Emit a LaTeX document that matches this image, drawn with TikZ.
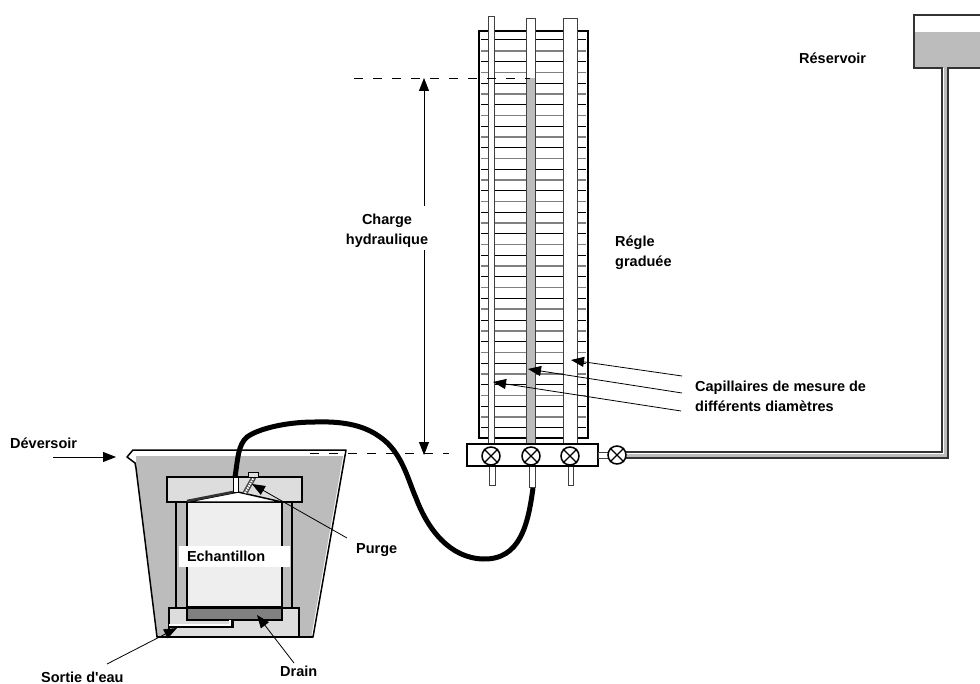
\documentclass[tikz,border=0pt]{standalone}
\usepackage{fontspec}
\newfontfamily\labelfont{Liberation Sans}
\usetikzlibrary{arrows.meta,positioning,calc}
\definecolor{watergrey}{RGB}{188,188,188}
\definecolor{capgrey}{RGB}{221,221,221}
\definecolor{samplegrey}{RGB}{238,238,238}
\definecolor{draingrey}{RGB}{128,128,128}

\begin{document}
\begin{tikzpicture}[
  x=1pt, y=-1pt,
  font=\fontsize{14.5}{20}\selectfont\labelfont\bfseries,
  arrow/.style={-{Stealth[length=13pt,width=10pt,inset=0pt]}, line width=0.8pt, draw=black},
  label/.style={inner sep=0pt, align=left},
  wall/.style={draw=black, line width=1.5pt},
  hose/.style={draw=black, line width=5pt, line join=round},
  tube/.style={draw=black!75, fill=white, line width=1pt},
  dashline/.style={draw=black, line width=0.8pt, dash pattern=on 9pt off 10pt},
  valve/.style={circle, draw=black, fill=white, line width=1.5pt, minimum size=18pt, inner sep=0pt}
]
\useasboundingbox (0,0) rectangle (980,684);

% --- Reservoir ---
\fill[watergrey] (914,32) rectangle (980,68);
\draw[line width=1.2pt, draw=black!80] (980,15) -- (914,15) -- (914,68) -- (942,68) -- (942,452)
  -- (626,452);
\draw[line width=3pt, draw=watergrey] (945,68) -- (945,455) -- (626,455);
\draw[line width=1.8pt, draw=black!80] (980,68) -- (948,68) -- (948,458) -- (626,458);

% --- Ruler ---
\draw[draw=black, line width=1.5pt, fill=white] (479,438) -- (479,31) -- (588,31) -- (588,438) -- cycle;
\foreach \row in {0,...,36} {
  \pgfmathsetmacro{\ypos}{40+10.77*\row}
  \ifodd\row
    \draw[draw=draingrey, line width=1.5pt] (481,\ypos) -- (586,\ypos);
  \else
    \draw[draw=black, line width=1pt] (481,\ypos) -- (586,\ypos);
  \fi
}

% --- Capillaries ---
\draw[tube] (488,444) rectangle (494,17);
\draw[tube] (526,444) rectangle (535,19);
\fill[watergrey] (526.5,78) rectangle (534.5,444);
\draw[tube] (563,444) rectangle (577,19);

% --- Legs and base ---
\draw[tube] (489,466) rectangle (495,485);
\draw[tube] (529,466) rectangle (535,487);
\draw[tube] (568,466) rectangle (573,485);
\draw[wall, fill=white] (467,444) rectangle (598,466);
\draw[tube] (598,452) rectangle (609,458);

% --- Valves ---
\node[valve] (v1) at (491,456) {};
\node[valve] (v2) at (531,456) {};
\node[valve] (v3) at (570,456) {};
\node[valve] (v4) at (617,455) {};
\foreach \v in {v1,v2,v3,v4} {
  \draw[line width=1.2pt] (\v.45) -- (\v.225);
  \draw[line width=1.2pt] (\v.135) -- (\v.315);
}

% --- Basin ---
\fill[watergrey] (136,456) -- (345,456) -- (313,637) -- (157,637) -- (136,468) -- cycle;
\draw[wall, line join=round] (127,457) -- (133,450) -- (346,450) -- (313,637) -- (157,637)
  -- (136,468) -- (135,463) -- cycle;
\draw[draw=white, line width=0.7pt] (344,453) -- (312,635);

% --- Cell ---
\draw[wall, fill=watergrey] (176,502) rectangle (292,608);
\draw[wall, fill=samplegrey] (187,502) rectangle (282,607);
\draw[wall, fill=capgrey] (167,477) rectangle (302,502);
\draw[wall, fill=white] (187,502) -- (238,492) -- (282,502) -- cycle;
\draw[line width=2.5pt, draw=black!80] (187,501) -- (238,491);
\draw[wall, fill=capgrey] (169,608) rectangle (299,637);
\draw[wall, fill=draingrey] (187,608) rectangle (282,620);
\draw[line width=4pt, draw=black] (169,626) -- (232,626) -- (232,620);
\draw[line width=2pt, draw=white] (169,625) -- (230,625) -- (230,620);
\draw[line width=2.5pt, draw=black] (157,637) -- (313,637);

% --- Purge ---
\draw[line width=1pt, draw=black, fill=white] (233,477) rectangle (238,492);
\draw[line width=5pt, draw=black!70] (245,493) -- (254,477);
\draw[line width=2pt, draw=white, dash pattern=on 1.5pt off 1pt] (245,493) -- (254,477);
\draw[line width=1pt, fill=capgrey] (248,472) rectangle (258,477);

% --- Hose ---
\draw[hose] (235,477) .. controls (238,458) and (238,445) .. (247,437)
  .. controls (258,429) and (285,422) .. (315,422)
  .. controls (345,421) and (365,426) .. (380,437)
  .. controls (402,452) and (408,480) .. (416,498)
  .. controls (428,530) and (450,558) .. (483,559)
  .. controls (520,560) and (528,525) .. (533,488);

% --- Labels ---
\node[label, anchor=base west] (reservoir) at (799,64) {Réservoir};
\node[label, anchor=west] (regle) at (615,253) {Régle\\graduée};
\node[label, anchor=west] (capillaires) at (695,396) {Capillaires de mesure de\\différents diamètres};
\node[label, align=center] (charge) at (387,231) {Charge\\hydraulique};
\node[label, anchor=base west] (deversoir) at (10,448) {Déversoir};
\node[label, anchor=base west] (purge) at (356,553) {Purge};
\node[label, anchor=base west] (drain) at (280,676) {Drain};
\node[label, anchor=base west] (sortie) at (41,682) {Sortie d'eau};
\node[label, fill=white, minimum height=21pt, text width=95pt, inner xsep=8pt] (echantillon) at (234.5,556.5) {Echantillon};

% --- Head ---
\coordinate (headtop) at (424,78);
\coordinate (headbot) at (424,455);
\coordinate (headupper) at (424,206);
\coordinate (headlower) at (424,250);
\draw[arrow] (headupper) -- (headtop);
\draw[arrow] (headlower) -- (headbot);
\coordinate (dashtopa) at (354,78);
\coordinate (dashtopb) at (530,78);
\coordinate (dashbota) at (310,453);
\coordinate (dashbotb) at (449,453);
\draw[dashline] (dashtopa) -- (dashtopb);
\draw[dashline] (dashbota) -- (dashbotb);

% --- Arrows ---
\coordinate (deversoirtip) at (116,457);
\coordinate (deversoirstart) at (53,457);
\draw[arrow] (deversoirstart) -- (deversoirtip);
\coordinate (purgetip) at (252,484);
\coordinate (purgestart) at (347,538);
\draw[arrow] (purgestart) -- (purgetip);
\coordinate (draintip) at (257,615);
\coordinate (drainstart) at (294,663);
\draw[arrow] (drainstart) -- (draintip);
\coordinate (sortietip) at (177,628);
\coordinate (sortiestart) at (107,664);
\draw[arrow] (sortiestart) -- (sortietip);
\coordinate (captipa) at (571,360);
\coordinate (captipb) at (528,369);
\coordinate (captipc) at (493,382);
\coordinate (capstarta) at (682,376);
\coordinate (capstartb) at (682,393);
\coordinate (capstartc) at (681,411);
\draw[arrow] (capstarta) -- (captipa);
\draw[arrow] (capstartb) -- (captipb);
\draw[arrow] (capstartc) -- (captipc);

\end{tikzpicture}
\end{document}
